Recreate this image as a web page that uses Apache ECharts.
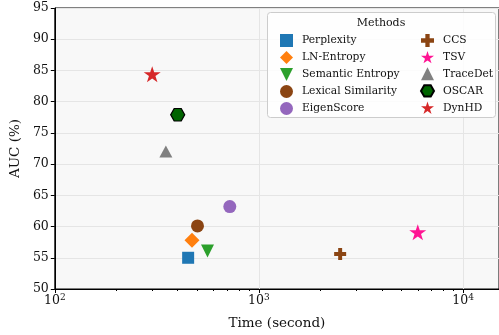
<!DOCTYPE html>
<html>
<head>
<meta charset="utf-8">
<script src="https://cdn.jsdelivr.net/npm/echarts@6/dist/echarts.min.js"></script>
<style>html,body{margin:0;padding:0;background:#fff}#c{width:499px;height:335px}</style>
</head>
<body>
<div id="c"></div>
<script>
const methods = ['Perplexity','LN-Entropy','Semantic Entropy','Lexical Similarity','EigenScore','CCS','TSV','TraceDet','OSCAR','DynHD'];
const times = [450, 470, 560, 500, 720, 2500, 6000, 350, 400, 300];
const aucs = [55.0, 57.8, 56.1, 60.1, 63.2, 55.6, 59.1, 72.0, 77.9, 84.4];
const xMajorTicks = [100, 1000, 10000];
const xMinorTicks = [200,300,400,500,600,700,800,900,2000,3000,4000,5000,6000,7000,8000,9000];
const yTicks = [50,55,60,65,70,75,80,85,90,95];

const STAR = 'path://M0,-100 L22.45,-30.9 L95.11,-30.9 L36.33,11.8 L58.78,80.9 L0,38.2 L-58.78,80.9 L-36.33,11.8 L-95.11,-30.9 L-22.45,-30.9 Z';
const PLUS = 'path://M-100,-33 L-33,-33 L-33,-100 L33,-100 L33,-33 L100,-33 L100,33 L33,33 L33,100 L-33,100 L-33,33 L-100,33 Z';
const HEX = 'path://M100,0 L50,86.6 L-50,86.6 L-100,0 L-50,-86.6 L50,-86.6 Z';
const TRI_DOWN = 'path://M-100,-100 L100,-100 L0,100 Z';
const TRI_UP = 'path://M-100,100 L100,100 L0,-100 Z';

const styles = [
  {color:'#1f77b4', symbol:'rect', size:12},
  {color:'#ff7f0e', symbol:'diamond', size:[15,15]},
  {color:'#2ca02c', symbol:TRI_DOWN, size:[13,13]},
  {color:'#8b4513', symbol:'circle', size:13},
  {color:'#9467bd', symbol:'circle', size:13},
  {color:'#8b4513', symbol:PLUS, size:[12,12]},
  {color:'#ff1493', symbol:STAR, size:[17,16]},
  {color:'#808080', symbol:TRI_UP, size:[13,12]},
  {color:'#006400', symbol:HEX, size:[14,12.5], border:'#000'},
  {color:'#d62728', symbol:STAR, size:[17,16]}
];

const FONT = 'DejaVu Serif';

const series = methods.map((m, i) => ({
  name: m,
  type: 'scatter',
  symbol: styles[i].symbol,
  symbolSize: styles[i].size,
  itemStyle: Object.assign({color: styles[i].color, opacity: 1},
    styles[i].border ? {borderColor: styles[i].border, borderWidth: 1.2} : {}),
  data: [[times[i], aucs[i]]],
  z: 2
}));

const legendText = {fontFamily: FONT, fontSize: 10.7, color: '#111', padding: [0,0,0,4]};

const chart = echarts.init(document.getElementById('c'), null, {renderer: 'canvas'});
chart.setOption({
  animation: false,
  grid: {left: 54, top: 8, width: 447, height: 282, show: true, backgroundColor: '#f8f8f8', borderColor: '#000', borderWidth: 1},
  xAxis: [
    {
      type: 'log', logBase: 10, min: 100, max: 15000,
      name: 'Time (second)', nameLocation: 'middle', nameGap: 27,
      nameTextStyle: {fontFamily: FONT, fontSize: 13.5, color: '#111'},
      axisLine: {show: true, lineStyle: {color: '#000', width: 1}},
      axisTick: {show: true, length: 4, inside: false, customValues: xMajorTicks, lineStyle: {color: '#000'}},
      axisLabel: {show: true, customValues: xMajorTicks, margin: 4, color: '#111',
        formatter: v => '{b|10}{s|' + Math.round(Math.log10(v)) + '}',
        rich: {
          b: {fontFamily: FONT, fontSize: 12.5, color: '#111'},
          s: {fontFamily: FONT, fontSize: 9, color: '#111', padding: [0,0,7,0]}
        }},
      splitLine: {show: true, lineStyle: {color: '#e5e5e5', width: 1}},
      minorTick: {show: false}
    },
    {
      type: 'log', logBase: 10, min: 100, max: 15000, position: 'bottom',
      axisLine: {show: false},
      axisTick: {show: true, length: 2, customValues: xMinorTicks, lineStyle: {color: '#000'}},
      axisLabel: {show: false},
      splitLine: {show: false}
    }
  ],
  yAxis: {
    type: 'value', min: 50, max: 95, interval: 5,
    name: 'AUC (%)', nameLocation: 'middle', nameGap: 28,
    nameTextStyle: {fontFamily: FONT, fontSize: 13.5, color: '#111'},
    axisLine: {show: true, lineStyle: {color: '#000', width: 1}},
    axisTick: {show: true, length: 4, lineStyle: {color: '#000'}},
    axisLabel: {margin: 6, fontFamily: FONT, fontSize: 12.5, color: '#111', customValues: yTicks},
    splitLine: {show: true, lineStyle: {color: '#e5e5e5', width: 1}}
  },
  legend: [
    {
      data: methods.slice(0,5), orient: 'vertical', left: 275, top: 29,
      itemWidth: 13, itemHeight: 13, itemGap: 4, textStyle: legendText, z: 5
    },
    {
      data: methods.slice(5), orient: 'vertical', left: 415, top: 29,
      itemWidth: 13, itemHeight: 13, itemGap: 4, textStyle: legendText, z: 5
    }
  ],
  graphic: [
    {type: 'rect', z: 3, shape: {x: 267.5, y: 12.5, width: 228, height: 105, r: 3},
      style: {fill: 'rgba(255,255,255,0.85)', stroke: '#cccccc', lineWidth: 1}},
    {type: 'text', z: 5, x: 381, y: 23,
      style: {text: 'Methods', font: '11px "DejaVu Serif"', fill: '#111', textAlign: 'center', textVerticalAlign: 'middle'}}
  ],
  series: series
});
</script>
</body>
</html>
